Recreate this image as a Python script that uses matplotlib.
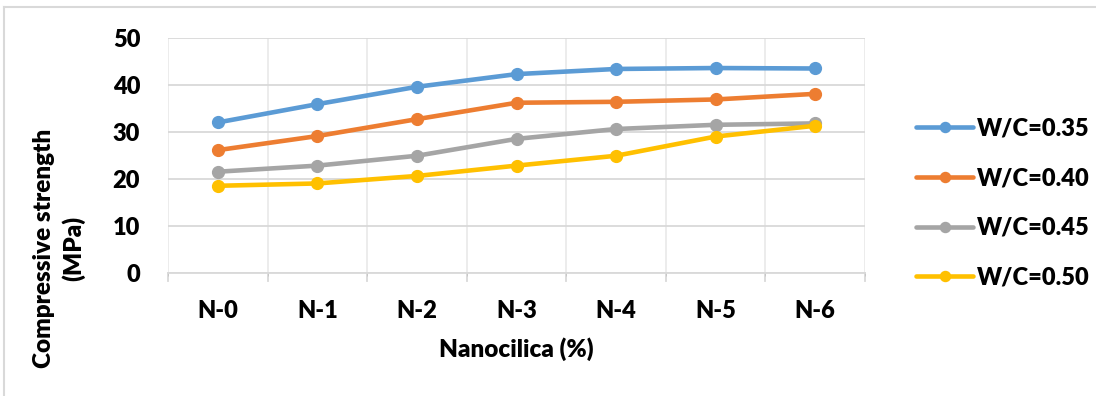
import numpy as np
import matplotlib.pyplot as plt
from matplotlib.lines import Line2D

# Compressive strength vs nanosilica dosage for four W/C ratios
mixes = ['N-0', 'N-1', 'N-2', 'N-3', 'N-4', 'N-5', 'N-6']
wc_035 = [32.0, 35.9, 39.6, 42.3, 43.4, 43.6, 43.5]
wc_040 = [26.1, 29.1, 32.7, 36.2, 36.4, 36.9, 38.1]
wc_045 = [21.5, 22.8, 24.9, 28.5, 30.6, 31.5, 31.8]
wc_050 = [18.5, 19.0, 20.6, 22.8, 24.9, 29.0, 31.3]
labels = ['W/C=0.35', 'W/C=0.40', 'W/C=0.45', 'W/C=0.50']
colors = ['#5B9BD5', '#ED7D31', '#A5A5A5', '#FFC000']

plt.rcParams['font.family'] = ['Lato', 'DejaVu Sans']
plt.rcParams['font.weight'] = 'heavy'
plt.rcParams['axes.labelweight'] = 'heavy'

fig = plt.figure(figsize=(10.96, 3.96), dpi=100)
ax = fig.add_axes([168 / 1096, 1 - 272.6 / 396, (865 - 168) / 1096, (272.6 - 38) / 396])

x = np.arange(len(mixes))
for series, lab, col in zip([wc_035, wc_040, wc_045, wc_050], labels, colors):
    ax.plot(x, series, color=col, lw=3.3, marker='o', ms=8.5,
            solid_capstyle='round', label=lab, zorder=3)

ax.set_xlim(-0.5, len(mixes) - 0.5)
ax.set_ylim(0, 50)
ax.set_yticks(np.arange(0, 51, 10))
ax.set_xticks(x)
ax.set_xticklabels(mixes)

# gridlines: horizontal at each major tick, vertical at centres and boundaries
ax.set_xticks(np.arange(-0.5, len(mixes), 0.5), minor=True)
ax.grid(axis='y', color='#D9D9D9', lw=1.3)
ax.grid(axis='x', which='minor', color='#EBEBEB', lw=1.3)
for s in ['top', 'right', 'left']:
    ax.spines[s].set_visible(False)
ax.spines['bottom'].set_color('#D9D9D9')
ax.spines['bottom'].set_linewidth(1.3)

ax.tick_params(axis='y', length=0, pad=20, labelsize=17)
ax.tick_params(axis='x', which='major', length=0, pad=20, labelsize=17)
# boundary ticks below the category axis
for b in np.arange(-0.5, len(mixes), 1.0):
    ax.plot([b, b], [0, -1.8], color='#D9D9D9', lw=1.3, clip_on=False)

ax.set_xlabel('Nanocilica (%)', fontsize=17.5, fontweight='heavy', labelpad=11)
fig.text(59 / 1096, 1 - 248 / 396, 'Compressive strength\n(MPa)', rotation=90,
         ha='center', va='center', fontsize=17.5, linespacing=1.3)

fig.legend(loc='center left', bbox_to_anchor=(895 / 1096, 1 - 203 / 396),
           frameon=False, fontsize=17, handlelength=2.4, handletextpad=0.15,
           labelspacing=1.17, markerscale=0.85)

# chart frame
fig.add_artist(Line2D([4 / 1096, 1.0], [1 - 7 / 396] * 2, color='#D9D9D9', lw=1.5))
fig.add_artist(Line2D([4 / 1096] * 2, [0, 1 - 7 / 396], color='#D9D9D9', lw=1.5))

fig.savefig('out.png', dpi=100)
